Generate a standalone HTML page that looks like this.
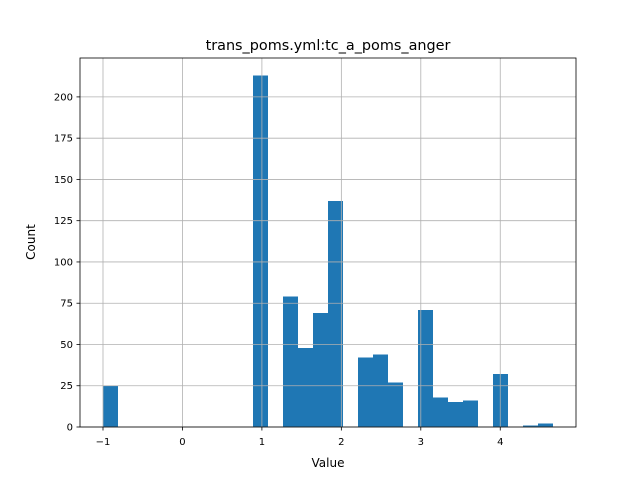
<!DOCTYPE html>
<html><head><meta charset="utf-8">
<style>
body{margin:0;background:#fff;}
svg{display:block;font-family:"DejaVu Sans","Liberation Sans",sans-serif;}
</style></head>
<body>
<svg id="chart" width="640" height="480" viewBox="0 0 640 480" xmlns="http://www.w3.org/2000/svg">
<rect width="640" height="480" fill="#fff"/>
<text x="328" y="50" text-anchor="middle" font-size="14.4">trans_poms.yml:tc_a_poms_anger</text>
<g id="bars" shape-rendering="crispEdges"></g>
<g id="grid"></g>
<rect x="80" y="58" width="496" height="369" fill="none" stroke="#000" stroke-width="0.8"/>
<g id="ticks"></g>
<text x="328" y="467" text-anchor="middle" font-size="12">Value</text>
<text x="35" y="242" text-anchor="middle" font-size="12" transform="rotate(-90 35 242)">Count</text>
</svg>
<script>
const binStart = -1;
const binWidth = 5.6667/30;
const counts = [25,0,0,0,0,0,0,0,0,0,213,0,79,48,69,137,0,42,44,27,0,71,18,15,16,0,32,0,1,2];
const xTicks = [-1,0,1,2,3,4];
const xTickLabels = ["\u22121","0","1","2","3","4"];
const yTicks = [0,25,50,75,100,125,150,175,200];

const NS="http://www.w3.org/2000/svg";
function X(v){return 103 + (v+1)*79.45;}
function Y(v){return 427 - v*1.6505;}
function mk(tag,attrs,parent){const e=document.createElementNS(NS,tag);for(const k in attrs)e.setAttribute(k,attrs[k]);parent.appendChild(e);return e;}
const grid=document.getElementById('grid'),bars=document.getElementById('bars'),ticks=document.getElementById('ticks');

xTicks.forEach((t,i)=>{
  const x=X(t);
  const g=mk('line',{x1:x,x2:x,y1:58,y2:427,stroke:'#b0b0b0','stroke-width':0.8},grid);
  
  
  const tk=mk('line',{x1:x,x2:x,y1:427,y2:430.5,stroke:'#000','stroke-width':0.8},ticks);
  
  
  const lb=mk('text',{x:x,y:445,'text-anchor':'middle','font-size':10},ticks);
  lb.textContent=xTickLabels[i];
  
  
});
yTicks.forEach(t=>{
  const y=Y(t);
  const g=mk('line',{x1:80,x2:576,y1:y,y2:y,stroke:'#b0b0b0','stroke-width':0.8},grid);
  
  
  const tk=mk('line',{x1:76.5,x2:80,y1:y,y2:y,stroke:'#000','stroke-width':0.8},ticks);
  
  
  const lb=mk('text',{x:73,y:y+3.5,'text-anchor':'end','font-size':10},ticks);
  lb.textContent=String(t);
  
  
});
counts.forEach((c,i)=>{
  if(c<=0)return;
  const x0=X(binStart+i*binWidth),x1=X(binStart+(i+1)*binWidth);
  const r=mk('rect',{x:x0,y:Y(c),width:x1-x0,height:Y(0)-Y(c),fill:'#1f77b4'},bars);
  
  
});
</script>
</body></html>
